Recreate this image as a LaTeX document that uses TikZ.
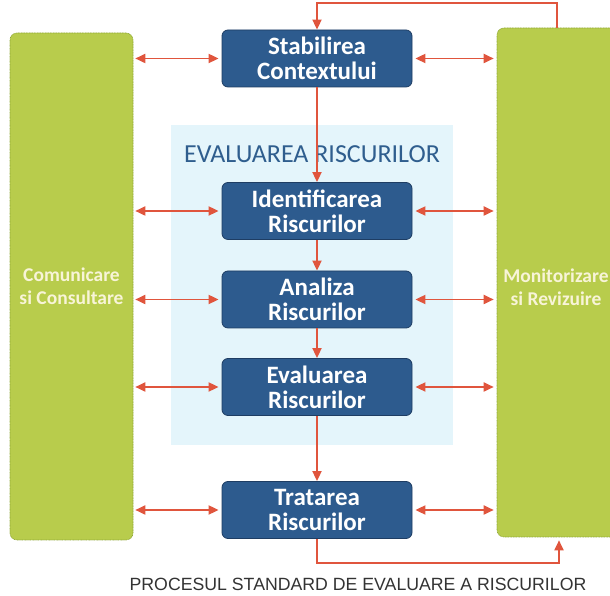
\documentclass[tikz,border=0pt]{standalone}
\usepackage{fontspec}
\setmainfont{Carlito}
\newfontfamily\capfont{Liberation Sans}
\usetikzlibrary{arrows.meta}
\definecolor{boxblue}{HTML}{2D5B8E}
\definecolor{boxedge}{HTML}{1E3D63}
\definecolor{grn}{HTML}{B8CC4C}
\definecolor{grnedge}{HTML}{8FA836}
\definecolor{lblue}{HTML}{E4F5FB}
\definecolor{arr}{HTML}{E0553D}
\definecolor{titleblue}{HTML}{2F5E8E}
\definecolor{gtext}{HTML}{F8F4D8}
\tikzset{
  stepbox/.style={draw=boxedge, line width=0.8pt, fill=boxblue, rounded corners=6pt,
    minimum width=190pt, minimum height=57pt, inner sep=0pt, align=center,
    text=white, font=\fontsize{25}{25}\selectfont\bfseries},
  sidebox/.style={draw=grnedge, line width=0.6pt, dash pattern=on 1pt off 0.6pt, fill=grn, rounded corners=7pt,
    inner sep=0pt, align=center, text=gtext, font=\fontsize{19.5}{23}\selectfont\bfseries},
  link/.style={draw=arr, line width=1.8pt, -{Triangle[length=10pt,width=9pt]}},
  dlink/.style={draw=arr, line width=1.8pt, {Triangle[length=10pt,width=9pt]}-{Triangle[length=10pt,width=9pt]}},
}
\begin{document}
\begin{tikzpicture}[x=1pt,y=1pt]
\useasboundingbox (0,0) rectangle (610,596);
\fill[white] (0,0) rectangle (610,596);
% light blue background area
\fill[lblue] (171,151) rectangle (453,471);
\node (evtitle) at (312,442) {\color{titleblue}\fontsize{26}{26}\selectfont EVALUAREA RISCURILOR};
% side boxes
\node[sidebox, minimum width=123pt, minimum height=507pt] (left) at (71.5,309.5) {Comunicare\\si Consultare};
\node[sidebox, minimum width=122pt, minimum height=509pt] (right) at (558,313.5) {};
\node[text=gtext, font=\fontsize{19.5}{23}\selectfont\bfseries, align=center] (rtext) at (556,309) {Monitorizare\\si Revizuire};
% process boxes
\node[stepbox] (s1) at (317,537.5) {Stabilirea\\Contextului};
\node[stepbox] (s2) at (317,385) {Identificarea\\Riscurilor};
\node[stepbox] (s3) at (317,296.5) {Analiza\\Riscurilor};
\node[stepbox] (s4) at (317,209) {Evaluarea\\Riscurilor};
\node[stepbox] (s5) at (317,86) {Tratarea\\Riscurilor};
% vertical links
\draw[link] (s1) -- (s2);
\draw[link] (s2) -- (s3);
\draw[link] (s3) -- (s4);
\draw[link] (s4) -- (s5);
% horizontal double links
\foreach \n in {s1,s2,s3,s4,s5}{
  \draw[dlink] (\n.west -| left.east) ++(2,0) -- ([xshift=-3pt]\n.west);
  \draw[dlink] ([xshift=3pt]\n.east) -- ([xshift=-3pt]\n.east -| right.west);
}
% loops
\coordinate (topR) at (557,593);
\coordinate (topL) at (317,593);
\draw[link] (right.north -| topR) -- (topR) -- (topL) -- (s1.north);
\coordinate (botL) at (317,33);
\coordinate (botR) at (559,33);
\draw[link] (s5.south) -- (botL) -- (botR) -- ([yshift=-3pt]right.south -| botR);
% caption
\node[text=black!80, font=\capfont\fontsize{17.7}{17.7}\selectfont, anchor=base] (cap) at (358,5) {PROCESUL STANDARD DE EVALUARE A RISCURILOR};
\end{tikzpicture}
\end{document}
